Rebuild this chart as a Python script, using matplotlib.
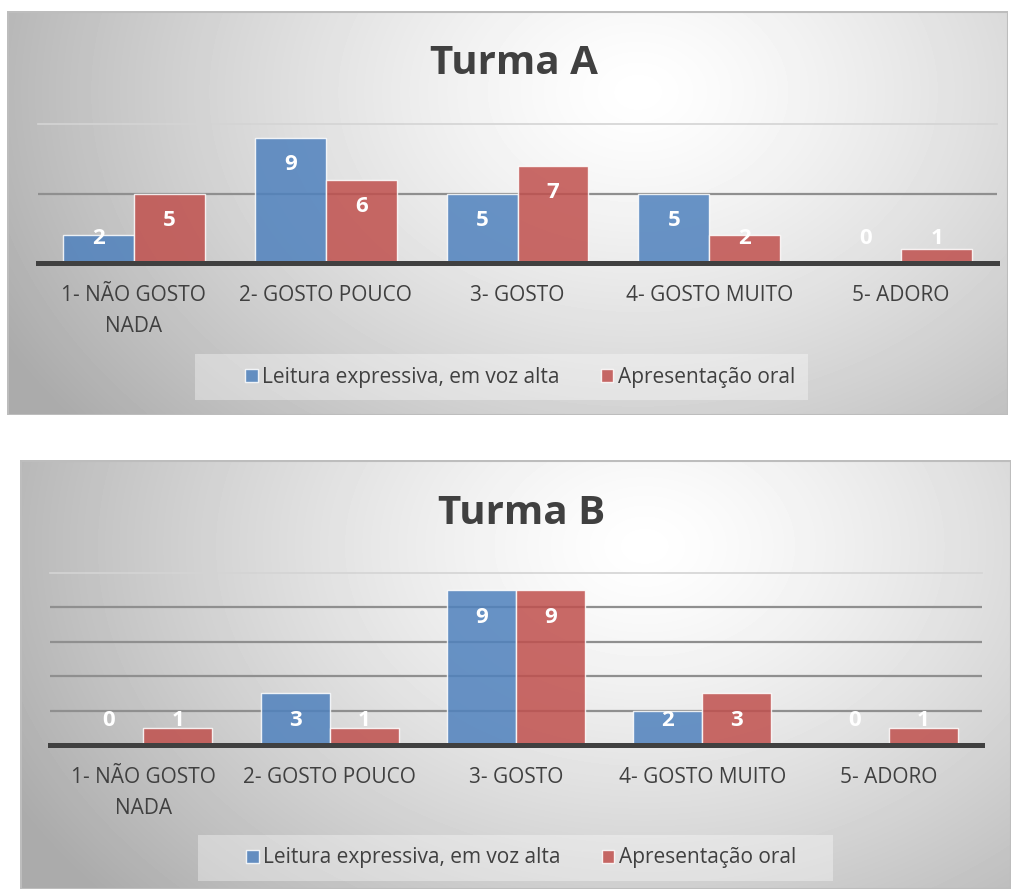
import numpy as np
import matplotlib
matplotlib.use('Agg')
import matplotlib.pyplot as plt
import matplotlib.patches as patches

plt.rcParams['font.family'] = ['Open Sans', 'DejaVu Sans']

# dados
categorias = ["1- NÃO GOSTO\nNADA", "2- GOSTO POUCO", "3- GOSTO", "4- GOSTO MUITO", "5- ADORO"]
series = ["Leitura expressiva, em voz alta", "Apresentação oral"]
turma_a_leitura = [2, 9, 5, 5, 0]
turma_a_apresentacao = [5, 6, 7, 2, 1]
turma_b_leitura = [0, 3, 9, 2, 0]
turma_b_apresentacao = [1, 1, 9, 3, 1]

W, H = 1011, 889
AZUL = '#4F81BD'
VERMELHO = '#C0504D'
TXT = '#404040'

fig = plt.figure(figsize=(W / 100, H / 100), dpi=100)
fig.patch.set_facecolor('white')


def fig_rect(x0, y0, x1, y1):
    # pixel (topo-esquerda) -> fração da figura
    return [x0 / W, 1 - y1 / H, (x1 - x0) / W, (y1 - y0) / H]


def painel(px, titulo, leitura, apresentacao, grid_step, ax_px, leg_px, leg_cx, title_y, cat_off):
    x0, y0, x1, y1 = px
    bg = fig.add_axes(fig_rect(x0, y0, x1, y1))
    w, h = int(x1 - x0), int(y1 - y0)
    xx, yy = np.meshgrid(np.arange(w), np.arange(h))
    cx, cy = 0.63 * w, 0.2 * h
    r = np.sqrt(((xx - cx) / 600) ** 2 + ((yy - cy) / 440) ** 2)
    img = 1 - 0.26 * np.clip(r, 0, 1.2) ** 1.3
    bg.imshow(img, cmap='gray', vmin=0, vmax=1, extent=(0, w, h, 0), aspect='auto')
    bg.set_xlim(0, w)
    bg.set_ylim(h, 0)
    bg.axis('off')
    bg.add_patch(patches.Rectangle((0.5, 0.5), w - 1, h - 1, fill=False, edgecolor='#bdbdbd', lw=1.5))

    # caixa da legenda
    lx0, ly0, lx1, ly1 = leg_px
    bg.add_patch(patches.Rectangle((lx0 - x0, ly0 - y0), lx1 - lx0, ly1 - ly0,
                                   facecolor='white', alpha=0.35, edgecolor='none'))

    fig.text(((x0 + x1) / 2 + 6) / W, 1 - title_y / H, titulo, ha='center', va='center',
             fontsize=29, fontweight='bold', color=TXT)

    ax = fig.add_axes(fig_rect(*ax_px))
    ax.patch.set_alpha(0)
    ax.set_xlim(-0.5, len(categorias) - 0.5)
    ax.set_ylim(0, 10)
    for s in ax.spines.values():
        s.set_visible(False)
    ax.set_xticks([])
    ax.set_yticks([])

    for g in np.arange(grid_step, 10 + 0.1, grid_step):
        if g >= 10:
            ax.axhline(g, color='#d4d4d4', lw=1.2, zorder=1, clip_on=False)
        else:
            ax.axhline(g, color='#8f8f8f', lw=1.6, zorder=1)
    ax.axhline(0, color='#404040', lw=3.6, zorder=4, clip_on=False)

    x = np.arange(len(categorias))
    bw = 0.37
    b1 = ax.bar(x - bw / 2, leitura, bw, color=AZUL, alpha=0.85, edgecolor=(1, 1, 1, 0.6), lw=1, zorder=2)
    b2 = ax.bar(x + bw / 2, apresentacao, bw, color=VERMELHO, alpha=0.85, edgecolor=(1, 1, 1, 0.6), lw=1, zorder=2)

    ppu = (ax_px[3] - ax_px[1]) / 10  # pixels por unidade
    for xs, vals in ((x - bw / 2, leitura), (x + bw / 2, apresentacao)):
        for xi, v in zip(xs, vals):
            hp = max(v * ppu - 27, 25)
            ax.annotate(str(v), xy=(xi, 0), xytext=(0, hp * 0.72), textcoords='offset points',
                        ha='center', va='center', fontsize=16, fontweight='bold', color='white', zorder=5)

    for xi, cat in zip(x, categorias):
        ax.annotate(cat, xy=(xi, 0), xytext=(0, -cat_off * 0.72), textcoords='offset points',
                    ha='center', va='top', fontsize=15, color=TXT, linespacing=1.62)

    fig.legend([b1, b2], series, loc='center',
               bbox_to_anchor=(leg_cx / W, 1 - (ly0 + ly1) / 2 / H),
               ncol=2, frameon=False, fontsize=15, handlelength=0.6, handleheight=0.6,
               handletextpad=0.2, columnspacing=2.0, labelcolor=TXT)


painel((7, 11, 1008, 415), "Turma A", turma_a_leitura, turma_a_apresentacao, 5,
       (38, 124, 997, 263), (195, 354, 808, 400), 520, 64, 22)
painel((20, 460, 1011, 889), "Turma B", turma_b_leitura, turma_b_apresentacao, 2,
       (50, 573, 982, 745), (198, 835, 833, 881), 521, 514, 22)

fig.savefig('out.png', dpi=100)
